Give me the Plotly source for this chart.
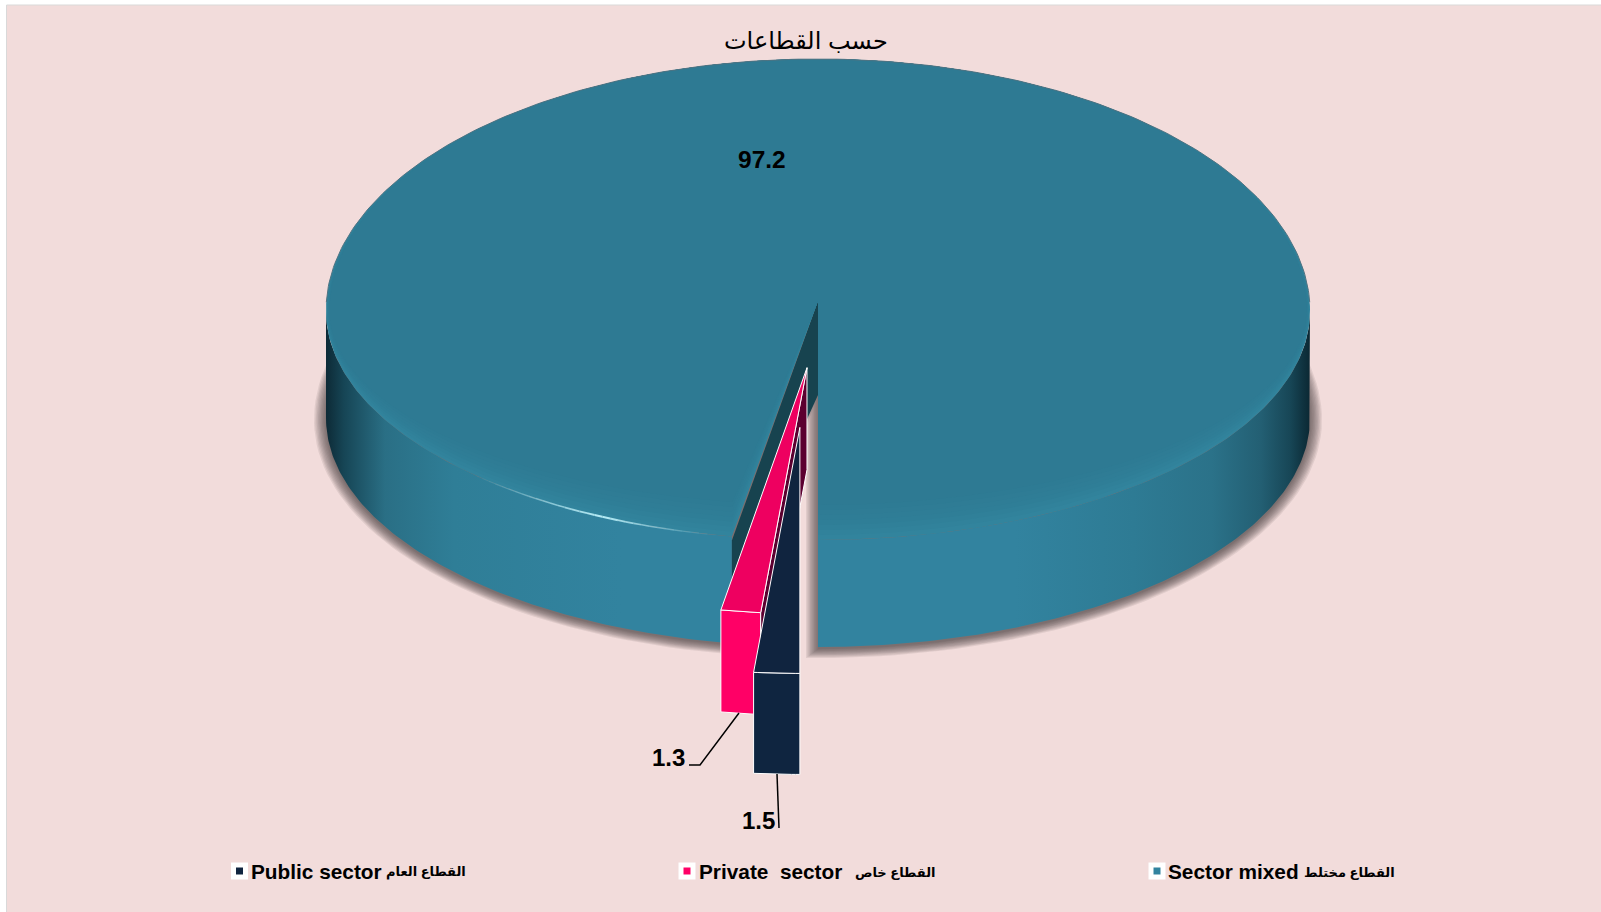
import numpy as np
import plotly.graph_objects as go

# ---------- data ----------
categories = ["Public sector", "Private  sector", "Sector mixed"]
categories_ar = ["القطاع العام", "القطاع خاص", "القطاع مختلط"]
values = [1.5, 1.3, 97.2]
labels = ["1.5", "1.3", "97.2"]
title_text = "حسب القطاعات"

# ---------- style / projection ----------
W, H = 1601, 912
BG = "#F2DCDB"
CX, CY, RX = 818, 311, 492
RY_BACK, RY_FRONT = 252, 229      # perspective: back half is taller than front half
RY_SLICE = 246                    # pulled slices
APEX_Y = 301
first_slice = 180.0
explode = [0.528, 0.279, 0.0]         # explosion per slice
explode_dir = [184.0, 184.6, 0.0]     # direction of the explosion
depths = [101, 102, 107]
top_col = ["#10243F", "#EE0060", "#2E7993"]
front_col = ["#0F2540", "#FF0066", "#32839F"]
wall_col = [None, "#5C0030", "#17434F"]
swatch = ["#10243F", "#FF0066", "#32839F"]

# slice angular limits, from the values
tot = sum(values)
ends = first_slice + np.cumsum(values) / tot * 360
starts = np.concatenate([[first_slice], ends[:-1]])


def pt(t, rx=RX, back=RY_BACK, front=RY_FRONT, cx=CX, cy=CY):
    r = np.radians(t)
    c = np.cos(r)
    return cx + rx * np.sin(r), cy - np.where(c > 0, back, front) * c


def arc(a, b, n=200, **k):
    return pt(np.linspace(a, b, n), **k)


fig = go.Figure()


def poly(x, y, color=None, line=None, lw=1, opacity=1.0, grad=None):
    x = list(x) + [x[0]]
    y = list(y) + [y[0]]
    kw = dict(x=x, y=y, mode="lines", fill="toself", hoverinfo="skip",
              showlegend=False, opacity=opacity,
              line=dict(color=line or "rgba(0,0,0,0)", width=lw if line else 0))
    if grad:
        kw["fillgradient"] = grad
    else:
        kw["fillcolor"] = color
    fig.add_trace(go.Scatter(**kw))


def stroke(x, y, color="#000000", width=1.5, opacity=1.0):
    fig.add_trace(go.Scatter(x=list(x), y=list(y), mode="lines", hoverinfo="skip",
                             showlegend=False, opacity=opacity,
                             line=dict(color=color, width=width)))


s_teal, e_teal = starts[2], ends[2]
D = depths[2]

# ---------- soft drop shadow ----------
for k in np.linspace(12, 0, 10):
    ax, ay = arc(s_teal, e_teal, rx=RX + k, front=RY_FRONT + k * 0.75, cy=CY + D + 2)
    xs = list(ax) + [CX - k, CX - k]
    ys = list(ay) + [CY + D + RY_FRONT + 2 + k * 0.75, APEX_Y + D - 15]
    poly(xs, ys, color="rgba(70,60,60,0.10)")

# ---------- outer wall of the big slice ----------
wall_grad = dict(type="horizontal", start=CX - RX, stop=CX + RX, colorscale=[
    [0.0, "#0D2A36"], [0.018, "#164555"], [0.06, "#2A6F85"], [0.13, "#2F7E97"],
    [0.3, "#32839F"], [0.7, "#32839F"], [0.82, "#2E7B94"], [0.90, "#2B7289"],
    [0.95, "#235F73"], [0.98, "#174656"], [1.0, "#0B2833"]])
# left part (left extreme -> gap edge)
ux, uy = arc(270, s_teal, n=120)
lx, ly = arc(s_teal, 270, n=120, cy=CY + D)
poly(list(ux) + list(lx), list(uy) + list(ly), grad=wall_grad)
# right part (6 o'clock -> right extreme)
ux, uy = arc(e_teal, e_teal - 90, n=120)
lx, ly = arc(e_teal - 90, e_teal, n=120, cy=CY + D)
poly(list(ux) + list(lx), list(uy) + list(ly), grad=wall_grad)

# ---------- inner cut wall of the big slice ----------
gx, gy = pt(s_teal)
poly([CX, gx, gx, CX], [APEX_Y, gy + 4, gy + 48, APEX_Y + 94], color=wall_col[2])

# ---------- top face with lit bevel ----------
bevel_cols = ["#32849D", "#31829B", "#308099", "#2F7E97", "#2F7D96", "#2F7C95", "#2E7B94", "#2E7A93"]
for i, c in enumerate(bevel_cols):
    f = i * 5
    tx, ty = arc(s_teal, e_teal, n=400, rx=RX - f * 0.1, front=RY_FRONT - f)
    poly([CX] + list(tx), [APEX_Y] + list(ty), color=c)

# back rim
bx, by = arc(272, 448, n=200)
stroke(bx, by, color="#4F7382", width=1)

# highlight along the front-left rim
seg_t = np.linspace(192, 224, 33)
peak = 206.0
for a, b in zip(seg_t[:-1], seg_t[1:]):
    mid = (a + b) / 2
    op = float(np.clip(1 - abs(mid - peak) / (18 if mid > peak else 14), 0, 1))
    hx, hy = arc(a, b, n=6)
    stroke(hx, hy, color="#B8EEF8", width=1.0 + op, opacity=op)

# ---------- pulled out slices ----------
for idx in (1, 0):
    a, b = starts[idx], ends[idx]
    e = explode[idx]
    d = depths[idx]
    r = np.radians(explode_dir[idx])
    ax0, ay0 = CX + RX * e * np.sin(r), APEX_Y - 240 * e * np.cos(r)
    t = np.radians(np.linspace(a, b, 12))
    ex, ey = ax0 + RX * np.sin(t), ay0 - RY_SLICE * np.cos(t)
    # front face
    poly(list(ex) + list(ex[::-1]), list(ey) + list(ey[::-1] + d),
         color=front_col[idx], line="#FFFFFF", lw=1)
    # inner wall
    if wall_col[idx]:
        poly([ax0, ex[0], ex[0], ax0], [ay0, ey[0], ey[0] + d, ay0 + d],
             color=wall_col[idx], line="#FFFFFF", lw=1)
    # top face
    poly([ax0] + list(ex), [ay0] + list(ey), color=top_col[idx], line="#FFFFFF", lw=1)

# ---------- leader lines ----------
stroke([739, 700, 689], [713, 765, 765], width=1.5)
stroke([777, 779], [774, 828], width=1.5)

# ---------- legend swatches ----------
leg_x = [239.5, 687, 1157]
leg_text_x = [249, 697, 1166]
leg_ar_end = [468, 937, 1397]
LEG_Y = 871
fig.add_trace(go.Scatter(x=leg_x, y=[LEG_Y] * 3, mode="markers", hoverinfo="skip", showlegend=False,
                         marker=dict(symbol="square", size=17, color="#FFFFFF", line=dict(width=0))))
fig.add_trace(go.Scatter(x=leg_x, y=[LEG_Y] * 3, mode="markers", hoverinfo="skip", showlegend=False,
                         marker=dict(symbol="square", size=7, color=swatch, line=dict(width=0))))

FONT = "Liberation Sans, Arial, DejaVu Sans, sans-serif"
ann = [
    dict(x=806, y=40, text=title_text, font=dict(size=24, color="#000000", family=FONT)),
    dict(x=762, y=159, text="<b>%s</b>" % labels[2], font=dict(size=24.5, color="#000000", family=FONT)),
    dict(x=668, y=757, text="<b>%s</b>" % labels[1], font=dict(size=24, color="#000000", family=FONT)),
    dict(x=758, y=820, text="<b>%s</b>" % labels[0], font=dict(size=24, color="#000000", family=FONT)),
]
for xt, xe, en, ar in zip(leg_text_x, leg_ar_end, categories, categories_ar):
    ann.append(dict(x=xt, y=LEG_Y, xanchor="left", text="<b>%s</b>" % en.replace("  ", "\u00a0 "),
                    font=dict(size=20.8, color="#000000", family=FONT)))
    ann.append(dict(x=xe, y=LEG_Y + 1, xanchor="right", text="<b>%s</b>" % ar,
                    font=dict(size=13, color="#000000", family=FONT)))
for a in ann:
    a.update(xref="x", yref="y", showarrow=False)
    a.setdefault("xanchor", "center")
    a.setdefault("yanchor", "middle")

fig.update_layout(
    width=W, height=H, margin=dict(l=0, r=0, t=0, b=0),
    paper_bgcolor="#FFFFFF", plot_bgcolor="#FFFFFF", showlegend=False,
    xaxis=dict(range=[0, W], visible=False, fixedrange=True),
    yaxis=dict(range=[H, 0], visible=False, fixedrange=True),
    annotations=ann,
    shapes=[dict(type="rect", xref="x", yref="y", x0=6.5, y0=5, x1=W + 5, y1=H + 5,
                 fillcolor=BG, line=dict(color="#D9D9D9", width=1), layer="below")],
)
fig.write_html("out.html", config={"displayModeBar": False},
               post_script="document.body.style.margin='0';document.body.style.overflow='hidden';")
